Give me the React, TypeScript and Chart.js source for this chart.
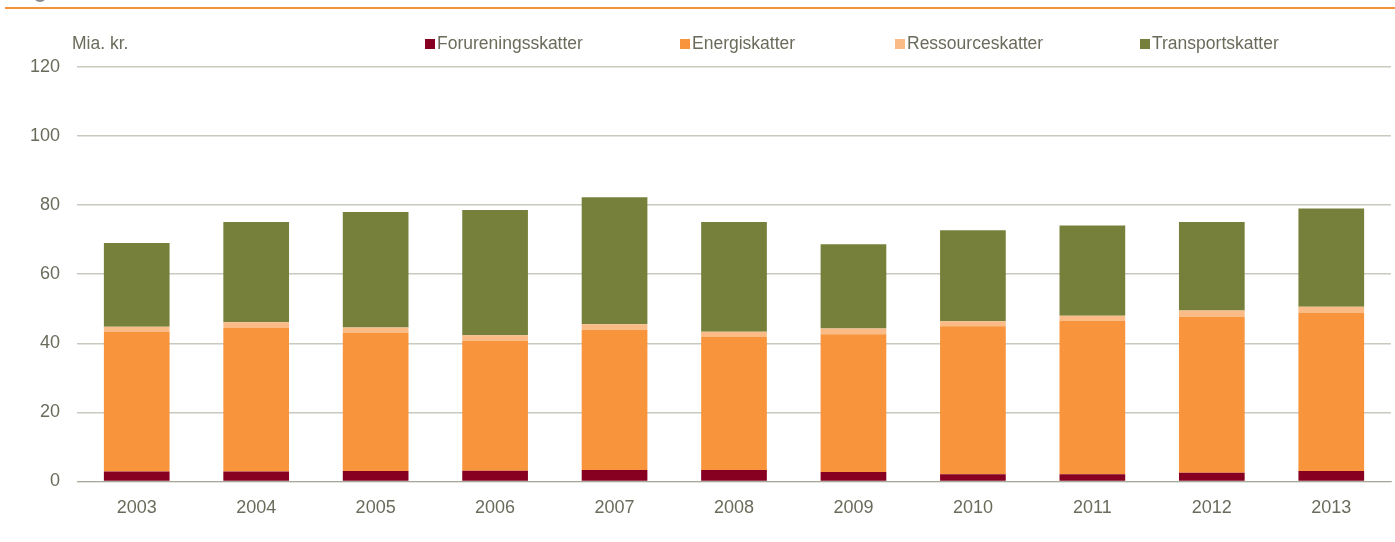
import React, { useEffect, useRef } from "react";
import { Chart, registerables } from "chart.js";

Chart.register(...registerables);

const years = ["2003", "2004", "2005", "2006", "2007", "2008", "2009", "2010", "2011", "2012", "2013"];
const forurening = [2.9, 2.9, 3.0, 3.1, 3.3, 3.3, 2.7, 2.1, 2.1, 2.5, 3.0];
const energi = [40.4, 41.5, 40.0, 37.6, 40.6, 38.5, 39.9, 42.8, 44.4, 45.2, 45.8];
const ressource = [1.5, 1.7, 1.6, 1.6, 1.6, 1.5, 1.7, 1.5, 1.5, 1.8, 1.8];
const transport = [24.2, 29.0, 33.4, 36.3, 36.8, 31.8, 24.4, 26.3, 26.1, 25.6, 28.4];
const seriesLabels = ["Forureningsskatter", "Energiskatter", "Ressourceskatter", "Transportskatter"];
const seriesColors = ["#870022", "#f7943c", "#fbbb87", "#77803b"];
const unitLabel = "Mia. kr.";

const FONT = "'Liberation Sans Narrow', 'Arial Narrow', 'Liberation Sans', Arial, sans-serif";
const TEXT = "#6b6b5c";
const legendX = [425, 680, 895, 1140];

const overlay = {
  id: "overlay",
  afterDraw(chart: any) {
    const ctx = chart.ctx;
    ctx.save();
    // cropped title marker + top orange rule
    ctx.fillStyle = "#8c8c8c";
    ctx.beginPath();
    ctx.arc(40, -5, 7, 0, Math.PI * 2);
    ctx.fill();
    ctx.fillStyle = "#f39236";
    ctx.fillRect(5, 7, chart.width - 5, 2);
    ctx.font = `17.5px ${FONT}`;
    ctx.textBaseline = "middle";
    ctx.fillStyle = TEXT;
    ctx.textAlign = "left";
    ctx.fillText(unitLabel, 72, 44);
    chart.data.datasets.forEach((ds: any, i: number) => {
      const x = legendX[i];
      ctx.fillStyle = ds.backgroundColor;
      ctx.fillRect(x, 39, 10, 10);
      ctx.fillStyle = TEXT;
      ctx.fillText(ds.label, x + 12, 44);
    });
    ctx.restore();
  },
};

export default function App() {
  const ref = useRef<HTMLCanvasElement>(null);
  useEffect(() => {
    document.body.style.margin = "0";
    const data = [forurening, energi, ressource, transport];
    const chart = new Chart(ref.current!, {
      type: "bar",
      data: {
        labels: years,
        datasets: seriesLabels.map((l, i) => ({
          label: l,
          data: data[i],
          backgroundColor: seriesColors[i],
          borderWidth: 0,
          barPercentage: 0.55,
          categoryPercentage: 1,
        })),
      },
      options: {
        responsive: false,
        animation: false,
        layout: { padding: { top: 67, right: 4, left: 0, bottom: 7 } },
        plugins: { legend: { display: false }, tooltip: { enabled: false } },
        scales: {
          x: {
            stacked: true,
            grid: { display: false, drawTicks: false },
            border: { color: "#a8a89a", width: 1 },
            ticks: { color: TEXT, font: { family: FONT, size: 18 }, padding: 16 },
          },
          y: {
            stacked: true,
            min: 0,
            max: 120,
            afterFit: (s: any) => { s.width = 77; },
            grid: { color: "#c9c9bd", drawTicks: false, lineWidth: 1.5 },
            border: { display: false },
            ticks: { stepSize: 20, color: TEXT, font: { family: FONT, size: 18 }, padding: 17 },
          },
        },
      },
      plugins: [overlay],
    });
    return () => chart.destroy();
  }, []);
  return (
    <div style={{ width: 1395, height: 542 }}>
      <canvas ref={ref} width={1395} height={542} />
    </div>
  );
}
